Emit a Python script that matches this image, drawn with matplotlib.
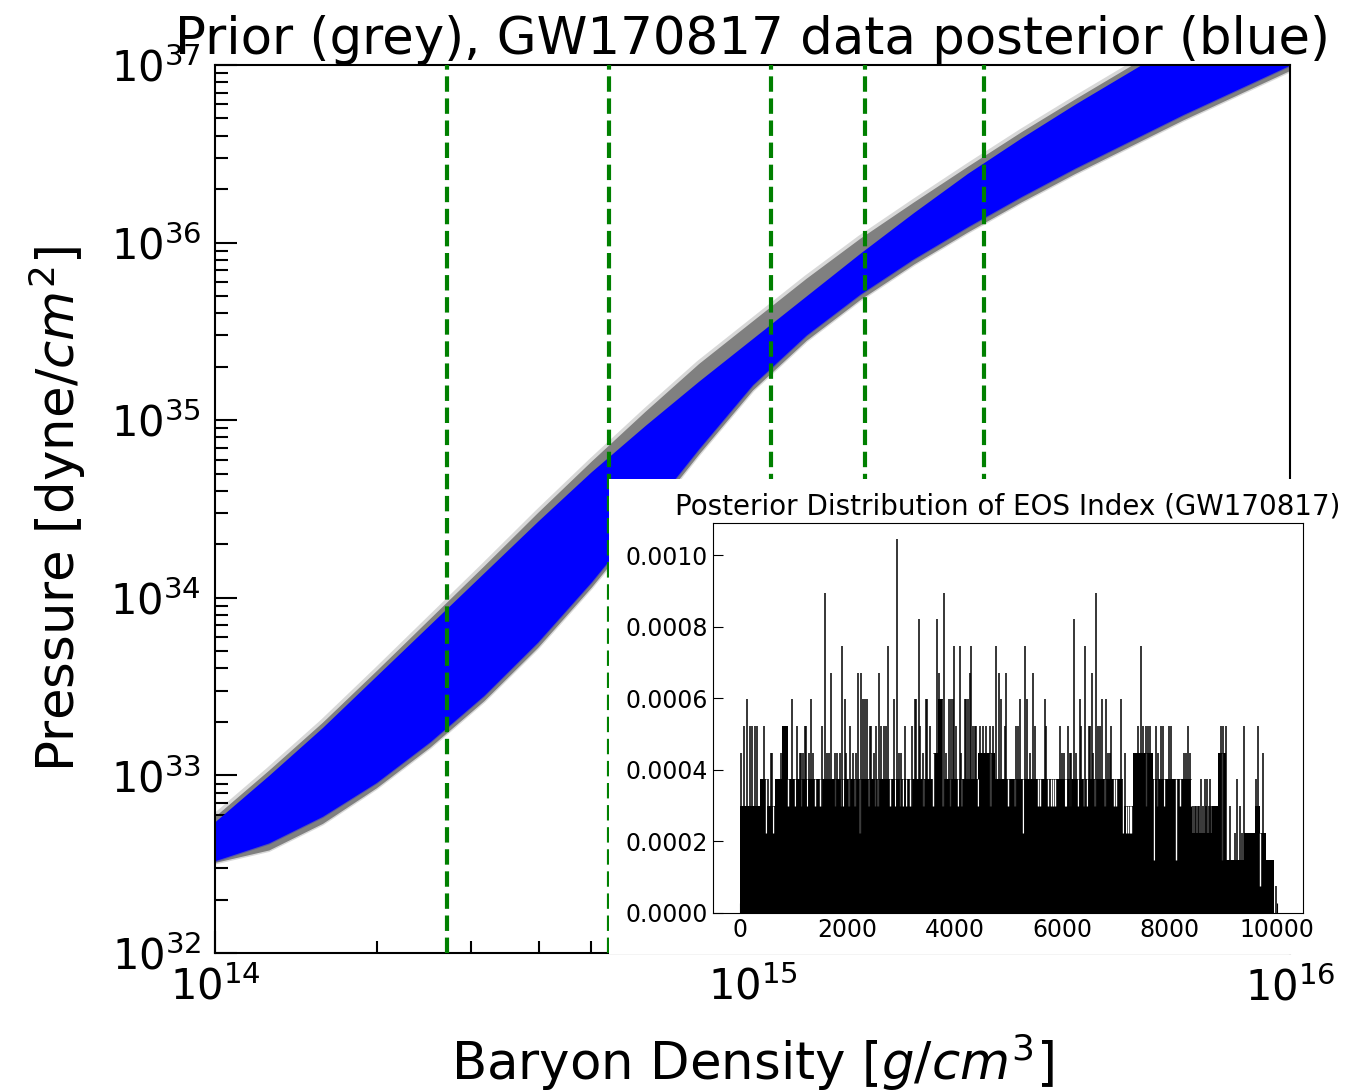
import numpy as np
import matplotlib
matplotlib.use("Agg")
import matplotlib.pyplot as plt
from matplotlib.patches import Rectangle
from matplotlib.ticker import FormatStrFormatter

# ---- main panel: band edges (log10 values) ----
log_density = [14.0, 14.1, 14.2, 14.3, 14.4, 14.5, 14.6, 14.7, 14.8, 14.9, 15.0,
               15.1, 15.2, 15.3, 15.4, 15.5, 15.6, 15.7, 15.8, 15.9, 16.0]
prior_upper = [32.77, 33.03, 33.30, 33.59, 33.885, 34.18, 34.48, 34.77, 35.05, 35.32, 35.56,
               35.80, 36.025, 36.23, 36.43, 36.625, 36.81, 36.99, 37.17, 37.34, 37.51]
prior_lower = [32.51, 32.58, 32.73, 32.93, 33.16, 33.42, 33.72, 34.06, 34.43, 34.81, 35.17,
               35.45, 35.68, 35.88, 36.06, 36.23, 36.39, 36.54, 36.69, 36.83, 36.97]
post_upper = [32.74, 33.00, 33.27, 33.56, 33.85, 34.14, 34.43, 34.71, 34.97, 35.22, 35.46,
              35.70, 35.94, 36.17, 36.39, 36.59, 36.78, 36.96, 37.14, 37.31, 37.48]
post_lower = [32.52, 32.62, 32.77, 32.96, 33.19, 33.45, 33.75, 34.09, 34.46, 34.84, 35.20,
              35.48, 35.71, 35.91, 36.09, 36.26, 36.42, 36.57, 36.72, 36.86, 37.00]

# reference densities: multiples of nuclear saturation density
n_sat = 2.7e14
sat_multiples = [1, 2, 4, 6, 10]

# ---- inset: posterior counts per EOS index ----
n_samples = 13400
base_edges = [0, 370, 500, 650, 780, 900, 3600, 3700, 3790, 4440, 4750, 7140, 7330,
              7700, 8420, 8800, 8900, 9060, 9400, 9600, 9680, 9800, 9950]
base_counts = [4, 5, 4, 5, 7, 5, 6, 8, 5, 6, 5, 4, 6, 5, 3, 4, 6, 2, 3, 4, 3, 2]

spike_index = [25, 81, 143, 186, 230, 279, 317, 453, 528, 577, 602, 763, 974, 1068, 1117,
               1148, 1179, 1210, 1229, 1285, 1335, 1366, 1533, 1583, 1633, 1670, 1707, 1769,
               1819, 1862, 1905, 1955, 1986, 2061, 2110, 2160, 2204, 2266, 2297, 2340, 2377,
               2421, 2452, 2495, 2545, 2588, 2638, 2681, 2719, 2762, 2874, 2930, 2961, 3010,
               3073, 3209, 3258, 3289, 3333, 3364, 3413, 3463, 3488, 3538, 3680, 3711, 3805,
               3848, 3891, 3929, 3972, 3991, 4034, 4096, 4127, 4189, 4220, 4251, 4283, 4301,
               4345, 4376, 4407, 4469, 4531, 4593, 4655, 4717, 4779, 4829, 4872, 4934, 4965,
               5139, 5183, 5214, 5307, 5356, 5400, 5462, 5493, 5692, 5710, 5958, 6002, 6039,
               6113, 6144, 6176, 6219, 6269, 6331, 6361, 6436, 6504, 6529, 6560, 6579, 6641,
               6672, 6703, 6746, 6827, 6858, 6889, 6920, 7094, 7168, 7417, 7479, 7510, 7559,
               7597, 7634, 7746, 7789, 7851, 7882, 7994, 8037, 8267, 8304, 8348, 8391, 8440,
               8470, 8500, 8530, 8560, 8596, 8630, 8658, 8680, 8702, 8730, 8751, 8780, 8968,
               9000, 9049, 9136, 9217, 9260, 9310, 9360, 9390, 9620, 9651, 9744, 9995]
spike_counts = [6, 7, 8, 7, 7, 7, 7, 7, 5, 6, 6, 6, 8, 7, 6,
                6, 6, 7, 7, 6, 8, 6, 7, 12, 6, 6, 9, 6,
                6, 6, 10, 8, 6, 7, 6, 6, 9, 9, 8, 8, 8,
                7, 7, 6, 7, 9, 7, 7, 7, 10, 8, 14, 6, 6,
                7, 7, 8, 8, 11, 7, 6, 8, 8, 7, 11, 9, 12,
                6, 8, 8, 8, 10, 7, 10, 6, 8, 8, 8, 9, 10,
                7, 7, 7, 7, 7, 7, 7, 7, 10, 9, 8, 7, 9,
                7, 7, 8, 10, 8, 6, 9, 7, 8, 7, 7, 6, 6,
                7, 6, 6, 11, 6, 8, 7, 10, 7, 7, 9, 6, 12,
                7, 7, 8, 8, 6, 6, 7, 8, 6, 7, 10, 7, 7,
                7, 7, 7, 6, 7, 7, 7, 7, 6, 6, 7, 6, 4,
                4, 4, 4, 4, 5, 4, 5, 4, 5, 4, 5, 4, 7,
                7, 7, 4, 3, 5, 4, 3, 7, 5, 7, 6, 1]

gap_index = [341, 497, 621, 900, 1024, 1148, 1260, 1397, 1490, 1508, 1769, 1893, 1930,
             2030, 2141, 2235, 2402, 2514, 2576, 2793, 2886, 2979, 3042, 3104, 3166, 3196,
             3413, 3600, 3786, 3910, 4065, 4127, 4438, 4655, 4996, 5120, 5276, 5555, 5586,
             5741, 5803, 5834, 5865, 6051, 6083, 6145, 6299, 6405, 6473, 6610, 6796, 6970,
             7013, 7137, 7199, 7230, 7261, 7292, 7572, 7708, 7770, 7895, 8130, 8192, 8410,
             8987, 9682]
gap_counts = [4, 3, 3, 4, 4, 4, 4, 4, 4, 4, 4, 4, 4,
              4, 4, 3, 4, 4, 4, 4, 4, 4, 4, 4, 4, 4,
              4, 4, 4, 4, 4, 4, 4, 4, 4, 4, 3, 4, 4,
              4, 4, 4, 4, 4, 4, 4, 4, 4, 4, 4, 4, 4,
              4, 3, 3, 3, 3, 3, 4, 2, 4, 4, 2, 4, 4,
              2, 1]

fig = plt.figure(figsize=(13.49, 10.91), dpi=100)
ax = fig.add_axes([0.1594, 0.1265, 0.7969, 0.8139])

rho = np.power(10.0, log_density)
# prior (grey) under posterior (blue)
ax.fill_between(rho, np.power(10.0, prior_lower), np.power(10.0, prior_upper),
                color="grey", lw=0, zorder=1)
ax.plot(rho, np.power(10.0, prior_upper), color="grey", lw=4, alpha=0.3, zorder=1)
ax.plot(rho, np.power(10.0, prior_lower), color="grey", lw=3, alpha=0.3, zorder=1)
ax.fill_between(rho, np.power(10.0, post_lower), np.power(10.0, post_upper),
                color="blue", lw=0, zorder=2)
ax.plot(rho, np.power(10.0, post_lower), color="blue", lw=2.5, alpha=0.35, zorder=2)

for m in sat_multiples:
    ax.axvline(m * n_sat, color="green", ls="--", lw=3, zorder=3)

ax.set_xscale("log")
ax.set_yscale("log")
ax.set_xlim(1e14, 1e16)
ax.set_ylim(1e32, 1e37)
ax.tick_params(which="both", direction="in", top=False, right=False, width=1.5)
ax.tick_params(which="major", length=16, labelsize=30, pad=10)
ax.tick_params(which="minor", length=9)
for s in ax.spines.values():
    s.set_linewidth(1.5)
ax.set_xlabel("Baryon Density [$g/cm^3$]", fontsize=37, labelpad=16)
ax.set_ylabel("Pressure [dyne/$cm^2$]", fontsize=37, labelpad=16)
ax.set_title("Prior (grey), GW170817 data posterior (blue)", fontsize=37)

# white backing for the inset
fig.add_artist(Rectangle((0.4514, 0.1256), 0.5486, 0.4354, transform=fig.transFigure,
                         facecolor="white", edgecolor="none", zorder=2))

axin = fig.add_axes([0.5285, 0.1632, 0.4374, 0.3575], zorder=3)
base_h = np.array(base_counts) / n_samples
axin.stairs(base_h, base_edges, fill=True, color="black", lw=0)
gap_base = np.array(base_counts)[np.searchsorted(base_edges, gap_index, side="right") - 1]
axin.vlines(gap_index, np.array(gap_counts) / n_samples, gap_base / n_samples,
            color="white", lw=1.0)
axin.vlines(spike_index, 0, np.array(spike_counts) / n_samples, color="black", lw=1.1)
axin.set_xlim(-500, 10490)
axin.set_ylim(0, 0.00109)
axin.set_xticks([0, 2000, 4000, 6000, 8000, 10000])
axin.set_yticks([0, 0.0002, 0.0004, 0.0006, 0.0008, 0.0010])
axin.yaxis.set_major_formatter(FormatStrFormatter("%.4f"))
axin.tick_params(direction="in", length=7, labelsize=17, top=False, right=False)
axin.set_title("Posterior Distribution of EOS Index (GW170817)", fontsize=20)

fig.savefig("out.png", dpi=100)
